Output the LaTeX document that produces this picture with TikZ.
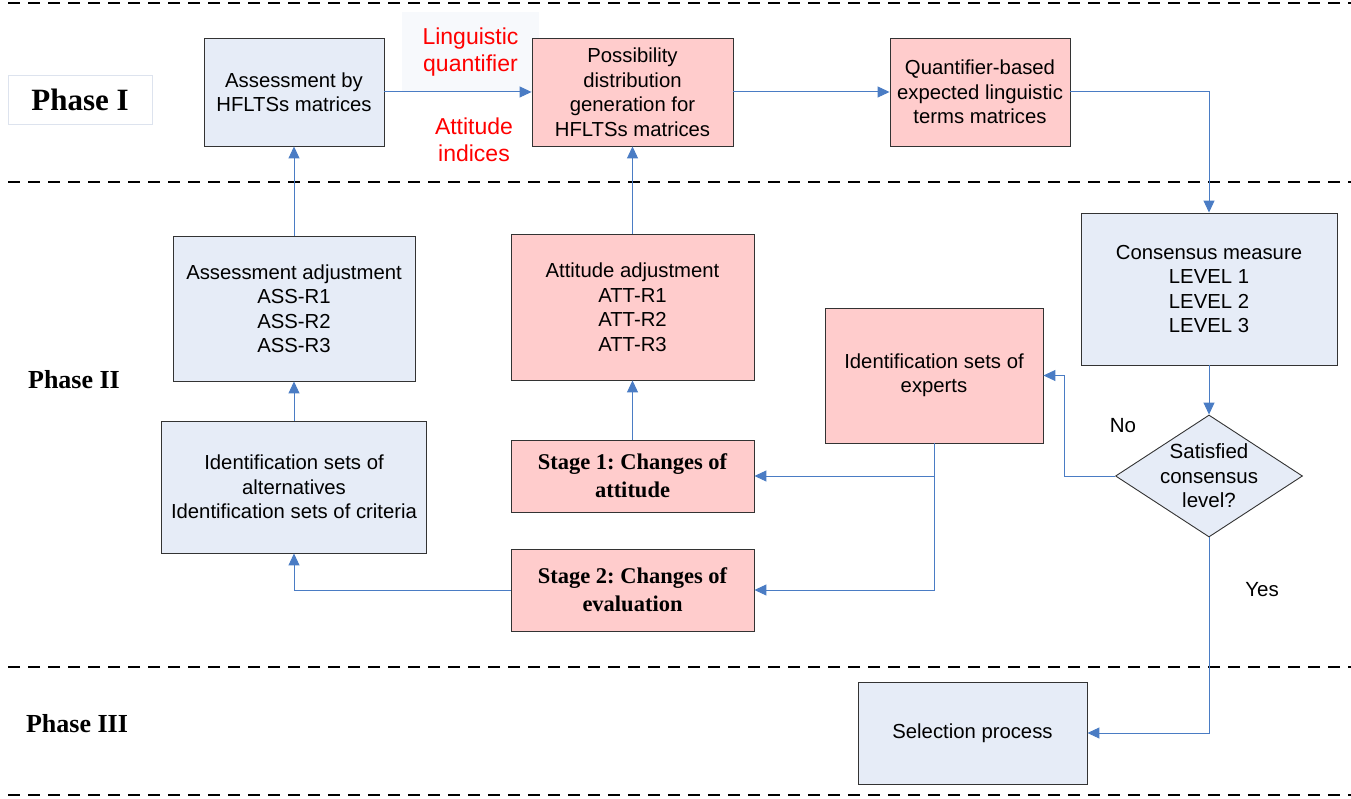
\documentclass[tikz,border=0pt]{standalone}
\usepackage{fontspec}
\setmainfont{Liberation Sans}
\newfontfamily\tnr{Liberation Serif}
\usetikzlibrary{arrows.meta,shapes.geometric}
\definecolor{boxblue}{HTML}{E6ECF7}
\definecolor{boxpink}{HTML}{FFCCCC}
\definecolor{linkblue}{HTML}{4A7CC4}
\definecolor{faint}{HTML}{F7F9FC}
\definecolor{phaseedge}{HTML}{DDE3EE}
\tikzset{
  x=1pt,y=-1pt,
  basebox/.style={draw=black!80,line width=0.9pt,align=center,inner sep=2pt,
    font=\fontsize{20.3}{24.5}\selectfont},
  bluebox/.style={basebox,fill=boxblue},
  pinkbox/.style={basebox,fill=boxpink},
  stagebox/.style={pinkbox,font=\frenchspacing\tnr\bfseries\fontsize{22.5}{28}\selectfont},
  link/.style={draw=linkblue,line width=1pt,-{Triangle[length=12pt,width=11pt]}},
  phasesep/.style={line width=1.8pt,dash pattern=on 12pt off 8pt},
  phaselabel/.style={font=\tnr\bfseries\fontsize{26}{30}\selectfont},
  redlabel/.style={text=red,align=center,font=\fontsize{23}{27}\selectfont},
  plainlabel/.style={font=\fontsize{20.5}{24.5}\selectfont}
}
\begin{document}
\begin{tikzpicture}
\useasboundingbox (0,0) rectangle (1351,799);
% phase separators
\draw[phasesep] (8,3) -- (1351,3);
\draw[phasesep] (8,182) -- (1351,182);
\draw[phasesep] (8,667) -- (1351,667);
\draw[phasesep] (8,795) -- (1351,795);
% phase labels
\node[phaselabel,font=\tnr\bfseries\fontsize{31}{34}\selectfont,draw=phaseedge,line width=0.8pt,minimum width=144pt,minimum height=49pt] (ph1) at (80,99.5) {Phase I};
\node[phaselabel] (ph2) at (74,380) {Phase II};
\node[phaselabel] (ph3) at (77,724) {Phase III};
% boxes
\node[bluebox,minimum width=180pt,minimum height=108pt] (ahm) at (294,92) {Assessment by\\HFLTSs matrices};
\node[redlabel,fill=faint,minimum width=137pt,minimum height=80pt] (lq) at (470.5,52) {Linguistic\\quantifier};
\node[redlabel] (ai) at (474,139.5) {Attitude\\indices};
\node[pinkbox,minimum width=201pt,minimum height=108pt] (pdg) at (632.5,92) {Possibility\\distribution\\generation for\\HFLTSs matrices};
\node[pinkbox,minimum width=180pt,minimum height=108pt] (qbe) at (980,92) {Quantifier-based\\expected linguistic\\terms matrices};
\node[bluebox,minimum width=256pt,minimum height=152pt] (cons) at (1209,289) {Consensus measure\\LEVEL 1\\LEVEL 2\\LEVEL 3};
\node[diamond,draw=black!80,line width=0.9pt,fill=boxblue,minimum width=187pt,minimum height=122pt,inner sep=0pt] (dia) at (1209,476) {};
\node[plainlabel,align=center] (diat) at (dia) {Satisfied\\consensus\\level?};
\node[pinkbox,minimum width=218pt,minimum height=135pt] (exp) at (934,375.5) {Identification sets of\\experts};
\node[stagebox,minimum width=243pt,minimum height=72pt] (s1) at (632.5,476) {Stage 1: Changes of\\attitude};
\node[stagebox,minimum width=243pt,minimum height=82pt] (s2) at (632.5,590) {Stage 2: Changes of\\evaluation};
\node[bluebox,minimum width=265pt,minimum height=132pt] (ida) at (294,487) {Identification sets of\\alternatives\\Identification sets of criteria};
\node[bluebox,minimum width=242pt,minimum height=145pt] (aadj) at (294,308.5) {Assessment adjustment\\ASS-R1\\ASS-R2\\ASS-R3};
\node[pinkbox,minimum width=243pt,minimum height=146pt] (tadj) at (632.5,307) {Attitude adjustment\\ATT-R1\\ATT-R2\\ATT-R3};
\node[bluebox,minimum width=229pt,minimum height=102pt] (sel) at (972.5,733) {Selection process};
\node[plainlabel] (no) at (1123,426) {No};
\node[plainlabel] (yes) at (1262,590) {Yes};
% connectors
\draw[link] (ahm.east) -- (pdg.west);
\draw[link] (pdg.east) -- (qbe.west);
\draw[link] (qbe.east) -| (cons.north);
\draw[link] (cons.south) -- (dia.north);
\draw[link] (dia.west) -- ++(-51,0) |- (exp.east);
\draw[link] (exp.south) |- (s1.east);
\draw[link] (exp.south) |- (s2.east);
\draw[link] (s1.north) -- (tadj.south);
\draw[link] (tadj.north) -- (pdg.south);
\draw[link] (s2.west) -| (ida.south);
\draw[link] (ida.north) -- (aadj.south);
\draw[link] (aadj.north) -- (ahm.south);
\draw[link] (dia.south) |- (sel.east);
\end{tikzpicture}
\end{document}
